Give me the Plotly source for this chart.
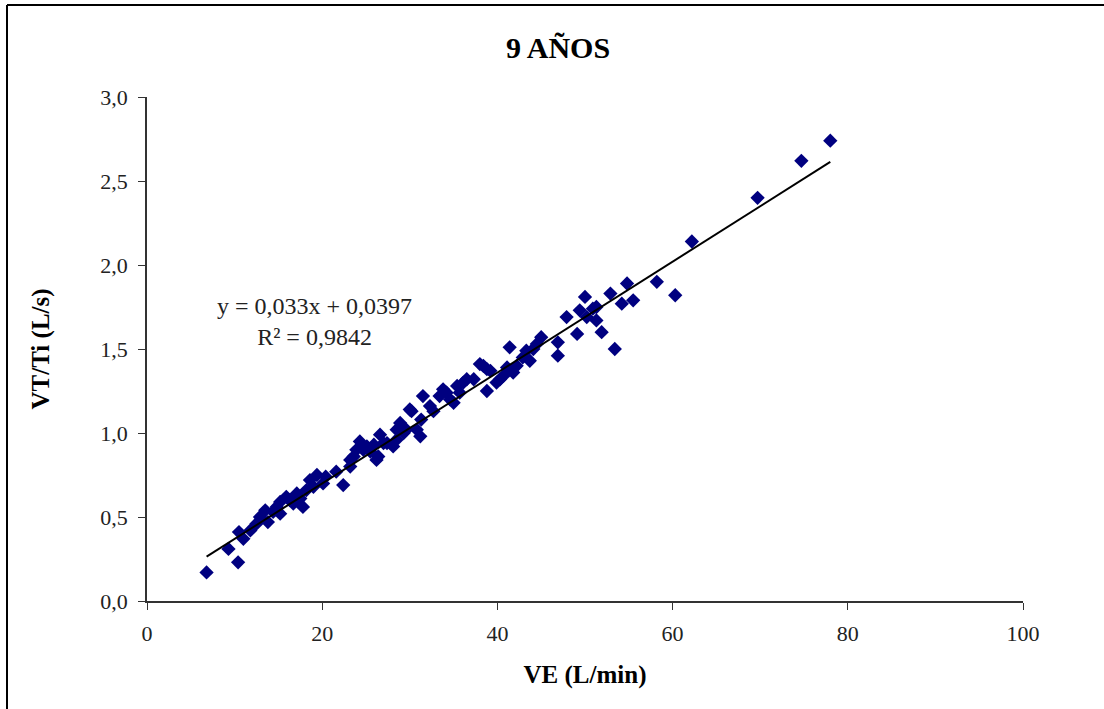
import plotly.graph_objects as go

ve = [6.8, 9.3, 10.4, 10.5, 11.0, 11.8, 12.5, 12.9, 13.5, 13.8, 14.4, 14.8, 15.2, 15.2, 15.9,
      16.3, 16.7, 17.1, 17.5, 17.8, 18.2, 18.6, 19.0, 19.4, 20.1, 20.4, 21.6, 22.4, 23.2, 23.2,
      23.6, 23.9, 24.3, 24.7, 25.1, 25.5, 25.9, 26.2, 26.6, 26.4, 27.0, 27.4, 28.1, 28.5, 28.5,
      28.9, 29.3, 29.6, 30.0, 30.2, 30.8, 31.2, 31.3, 31.5, 32.3, 32.7, 33.4, 33.8, 34.2, 34.6,
      35.0, 35.4, 35.7, 36.1, 36.5, 37.3, 38.0, 38.4, 38.8, 38.8, 39.2, 39.9, 40.3, 40.7, 41.1,
      41.4, 41.8, 42.2, 42.9, 43.3, 43.7, 44.1, 44.5, 45.0, 46.9, 46.9, 47.9, 49.1, 49.4, 50.0,
      50.2, 50.9, 51.3, 51.3, 51.9, 52.9, 53.4, 54.2, 54.8, 55.5, 58.2, 60.3, 62.2, 69.7, 74.7,
      78.0]
vtti = [0.17, 0.31, 0.23, 0.41, 0.37, 0.42, 0.46, 0.50, 0.54, 0.47, 0.53, 0.56, 0.52, 0.59, 0.62,
        0.60, 0.58, 0.64, 0.61, 0.56, 0.66, 0.72, 0.68, 0.75, 0.70, 0.74, 0.77, 0.69, 0.80, 0.84,
        0.86, 0.90, 0.95, 0.90, 0.92, 0.89, 0.93, 0.84, 0.99, 0.86, 0.94, 0.94, 0.92, 0.96, 1.02,
        1.06, 1.00, 1.02, 1.14, 1.13, 1.02, 0.98, 1.08, 1.22, 1.16, 1.13, 1.22, 1.26, 1.24, 1.20,
        1.18, 1.28, 1.24, 1.30, 1.32, 1.32, 1.41, 1.40, 1.25, 1.38, 1.37, 1.30, 1.32, 1.34, 1.39,
        1.51, 1.36, 1.40, 1.45, 1.49, 1.43, 1.50, 1.53, 1.57, 1.54, 1.46, 1.69, 1.59, 1.73, 1.81,
        1.69, 1.74, 1.67, 1.75, 1.60, 1.83, 1.50, 1.77, 1.89, 1.79, 1.90, 1.82, 2.14, 2.40, 2.62,
        2.74]

slope = 0.033
intercept = 0.0397
fit_x = [min(ve), max(ve)]
fit_y = [slope * v + intercept for v in fit_x]

x_ticks = [0, 20, 40, 60, 80, 100]
y_ticks = [0.0, 0.5, 1.0, 1.5, 2.0, 2.5, 3.0]
y_tick_text = ["0,0", "0,5", "1,0", "1,5", "2,0", "2,5", "3,0"]

FONT = "Liberation Serif, Times New Roman, serif"

fig = go.Figure()
fig.add_trace(go.Scatter(x=ve, y=vtti, mode="markers",
                         marker=dict(symbol="diamond", size=11, color="#000080"),
                         showlegend=False, hoverinfo="x+y"))
fig.add_trace(go.Scatter(x=fit_x, y=fit_y, mode="lines",
                         line=dict(color="black", width=2), showlegend=False))

W, H = 1104, 709
L, R, T, B = 147, 81, 97, 108
pw, ph = W - L - R, H - T - B

def px(xp):
    return (xp - L) / pw

def py(yp):
    return (H - B - yp) / ph

fig.update_layout(
    width=W, height=H,
    margin=dict(l=L, r=R, t=T, b=B),
    paper_bgcolor="white", plot_bgcolor="white",
    font=dict(family=FONT, size=22, color="#222222"),
    title=dict(text="<b>9 AÑOS</b>", xref="container", x=558 / W, xanchor="center",
               yref="container", y=1 - 47 / H, yanchor="middle",
               font=dict(family=FONT, size=30, color="black")),
    xaxis=dict(range=[0, 100], tickvals=x_ticks, ticktext=[str(v) for v in x_ticks],
               showgrid=False, zeroline=False, showline=True, linecolor="#333333",
               linewidth=1.5, ticks="outside", ticklen=7, tickcolor="#333333",
               ticklabelstandoff=5,
               title=dict(text="<b>VE (L/min)</b>", font=dict(family=FONT, size=25, color="black"),
                          standoff=20)),
    yaxis=dict(range=[0, 3], tickvals=y_ticks, ticktext=y_tick_text,
               showgrid=False, zeroline=False, showline=True, linecolor="#333333",
               linewidth=1.5, ticks="outside", ticklen=7, tickcolor="#333333",
               ticklabelstandoff=6,
               title=dict(text="<b>VT/Ti (L/s)</b>", font=dict(family=FONT, size=25, color="black"),
                          standoff=44)),
    annotations=[
        dict(text="y = 0,033x + 0,0397<br>R² = 0,9842", xref="paper", yref="paper",
             x=px(314), y=py(321), xanchor="center", yanchor="middle", showarrow=False,
             align="center", font=dict(family=FONT, size=24, color="#222222")),
    ],
    shapes=[
        dict(type="line", xref="paper", yref="paper", x0=px(7), x1=px(1104), y0=py(5), y1=py(5),
             line=dict(color="black", width=2)),
        dict(type="line", xref="paper", yref="paper", x0=px(7), x1=px(7), y0=py(5), y1=py(709),
             line=dict(color="black", width=2)),
    ],
)

fig.write_html("out.html")
